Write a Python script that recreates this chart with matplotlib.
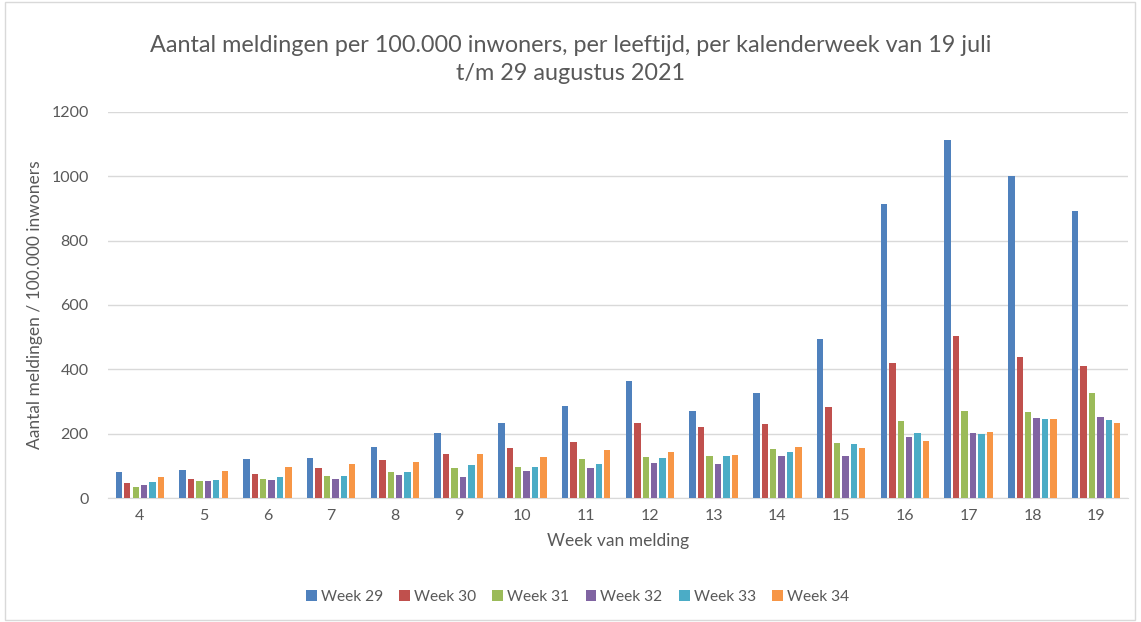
import matplotlib
matplotlib.use("Agg")
import matplotlib.pyplot as plt
import numpy as np
from matplotlib.patches import Rectangle

plt.rcParams['font.family'] = ['Lato', 'DejaVu Sans']

age_groups = ["4", "5", "6", "7", "8", "9", "10", "11", "12", "13", "14", "15", "16", "17", "18", "19"]
series_names = ["Week 29", "Week 30", "Week 31", "Week 32", "Week 33", "Week 34"]
week29 = [82, 87, 121, 124, 159, 202, 233, 286, 365, 270, 328, 495, 914, 1111, 999, 892]
week30 = [46, 60, 76, 95, 118, 136, 156, 174, 233, 222, 230, 284, 419, 503, 437, 411]
week31 = [35, 52, 60, 68, 81, 94, 97, 122, 127, 130, 153, 171, 240, 270, 268, 327]
week32 = [41, 52, 58, 60, 71, 66, 85, 94, 110, 107, 130, 131, 189, 204, 250, 253]
week33 = [49, 57, 66, 68, 80, 102, 97, 107, 125, 130, 143, 168, 202, 199, 245, 243]
week34 = [66, 85, 98, 105, 112, 136, 128, 151, 143, 135, 158, 157, 179, 206, 245, 232]
series = [week29, week30, week31, week32, week33, week34]
colors = ["#4F81BD", "#C0504D", "#9BBB59", "#8064A2", "#4BACC6", "#F79646"]

fig = plt.figure(figsize=(11.41, 6.22), dpi=100)
ax = fig.add_axes([0.0947, 0.199, 0.894, 0.6215])

x = np.arange(len(age_groups))
step = 0.132
width = 0.1
for i, (vals, c, name) in enumerate(zip(series, colors, series_names)):
    ax.bar(x + (i - 2.5) * step, vals, width=width, color=c, label=name, zorder=3)

ax.set_xlim(-0.5, len(age_groups) - 0.5)
ax.set_ylim(0, 1200)
ax.set_yticks(range(0, 1201, 200))
ax.set_xticks(x)
ax.set_xticklabels(age_groups)
ax.yaxis.grid(True, color="#D9D9D9", linewidth=1, zorder=0)
for s in ["top", "right", "left"]:
    ax.spines[s].set_visible(False)
ax.spines["bottom"].set_color("#D9D9D9")
ax.tick_params(axis="both", length=0, labelsize=11.5, labelcolor="#595959")
ax.tick_params(axis="y", pad=14)
ax.tick_params(axis="x", pad=8)

ax.set_ylabel("Aantal meldingen / 100.000 inwoners", fontsize=12.5, color="#595959", labelpad=6)
ax.set_xlabel("Week van melding", fontsize=12.5, color="#595959", labelpad=7)

fig.text(0.5, 1 - 45 / 622, "Aantal meldingen per 100.000 inwoners, per leeftijd, per kalenderweek van 19 juli",
         ha="center", va="center", fontsize=16.8, color="#595959")
fig.text(0.5, 1 - 74 / 622, "t/m 29 augustus 2021", ha="center", va="center", fontsize=16.8, color="#595959")

leg = fig.legend(loc="center", bbox_to_anchor=(0.506, 1 - 597 / 622), ncol=6, frameon=False,
                 fontsize=11.2, handlelength=0.7, handleheight=0.7, handletextpad=0.25, columnspacing=1.05)
for t in leg.get_texts():
    t.set_color("#595959")

fig.patches.append(Rectangle((0.004, 0.003), 0.991, 0.994, transform=fig.transFigure,
                             fill=False, edgecolor="#D9D9D9", linewidth=1))

fig.savefig("out.png", dpi=100, facecolor="white")
